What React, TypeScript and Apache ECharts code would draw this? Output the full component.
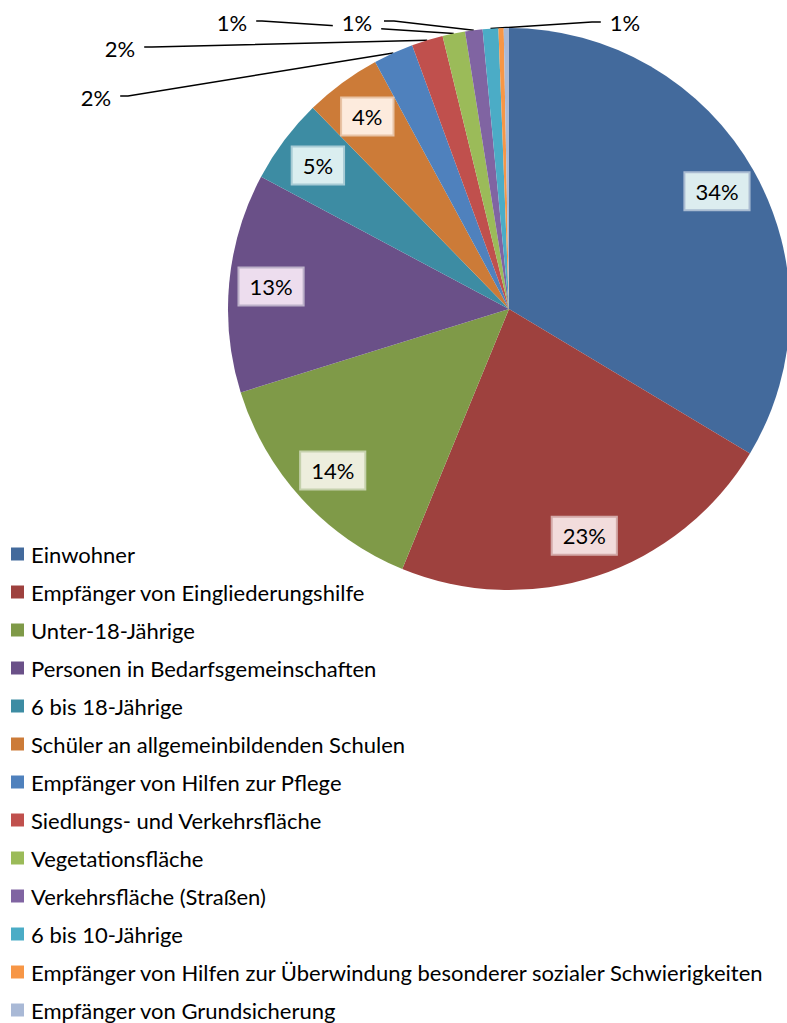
import React, { useEffect, useRef } from "react";
import * as echarts from "echarts";

const categories = [
  "Einwohner",
  "Empfänger von Eingliederungshilfe",
  "Unter-18-Jährige",
  "Personen in Bedarfsgemeinschaften",
  "6 bis 18-Jährige",
  "Schüler an allgemeinbildenden Schulen",
  "Empfänger von Hilfen zur Pflege",
  "Siedlungs- und Verkehrsfläche",
  "Vegetationsfläche",
  "Verkehrsfläche (Straßen)",
  "6 bis 10-Jährige",
  "Empfänger von Hilfen zur Überwindung besonderer sozialer Schwierigkeiten",
  "Empfänger von Grundsicherung",
];
const shares = [33.6, 22.6, 14.0, 12.6, 4.9, 4.4, 2.3, 1.8, 1.3, 1.0, 0.9, 0.3, 0.3];

const colors = [
  "#436A9C", "#9E413E", "#7F9A48", "#6A5088", "#3D8CA3", "#CC7B38",
  "#4F81BD", "#C0504D", "#9BBB59", "#8064A2", "#4BACC6", "#F79646", "#A9B9D6",
];
const insideFills = ["#DCEDEF", "#F2DCDC", "#EDEEDD", "#EDDDEE", "#DAEEF0", "#FDEBDD"];

// layout of the pie (px)
const CX = 509;
const CY = 309;
const R = 281;
const FONT = "Lato, 'Open Sans', sans-serif";

// outside label placement: label center, bend point, line end at the label
const outsideLabels: Record<number, { x: number; y: number; bx: number; by: number; ex: number; ey: number }> = {
  6: { x: 96, y: 97, bx: 128, by: 96, ex: 116, ey: 96 },
  7: { x: 120, y: 48, bx: 152, by: 47, ex: 142, ey: 47 },
  8: { x: 232, y: 22, bx: 262, by: 21, ex: 252, ey: 21 },
  9: { x: 357, y: 22, bx: 394, by: 21, ex: 384, ey: 21 },
  10: { x: 625, y: 22, bx: 592, by: 22, ex: 602, ey: 22 },
};

function edgePoint(i: number) {
  const total = shares.reduce((a, b) => a + b, 0);
  let before = 0;
  for (let k = 0; k < i; k++) before += shares[k];
  const mid = ((before + shares[i] / 2) / total) * Math.PI * 2;
  return [CX + R * Math.sin(mid), CY - R * Math.cos(mid)];
}

export default function App() {
  const ref = useRef<HTMLDivElement>(null);
  useEffect(() => {
    document.body.style.margin = "0";
    if (!ref.current) return;
    const chart = echarts.init(ref.current, undefined, { renderer: "svg" });
    const fmt = (p: any) => Math.round(p.percent) + "%";

    const mainData = categories.map((name, i) => {
      const outside = outsideLabels[i] !== undefined;
      return {
        name,
        value: shares[i],
        itemStyle: { color: colors[i] },
        label: outside
          ? {
              show: true,
              position: "outside",
              backgroundColor: "#ffffff",
              padding: [2, 9],
            }
          : { show: false },
        labelLine: { show: outside },
      };
    });

    const ringData = categories.map((name, i) => ({
      name,
      value: shares[i],
      label:
        i < 6
          ? {
              show: true,
              position: "inside",
              backgroundColor: insideFills[i],
              borderColor: "rgba(255,255,255,0.55)",
              borderWidth: 2,
              padding: [5, 10],
            }
          : { show: false },
    }));

    chart.setOption({
      animation: false,
      color: colors,
      legend: {
        orient: "vertical",
        left: 11,
        top: 543,
        bottom: 0,
        padding: 0,
        itemWidth: 13,
        itemHeight: 13,
        itemGap: 16,
        icon: "rect",
        selectedMode: false,
        data: categories,
        textStyle: {
          fontFamily: FONT,
          fontSize: 22,
          color: "#000",
          lineHeight: 20,
          padding: [0, 0, 0, 2],
        },
      },
      series: [
        {
          type: "pie",
          center: [CX, CY],
          radius: R,
          startAngle: 90,
          clockwise: true,
          avoidLabelOverlap: false,
          silent: true,
          itemStyle: { borderWidth: 0 },
          label: {
            formatter: fmt,
            fontFamily: FONT,
            fontSize: 22,
            color: "#000",
            lineHeight: 26,
          },
          labelLine: { lineStyle: { color: "#000", width: 1.5 } },
          labelLayout: (p: any) => {
            const o = outsideLabels[p.dataIndex];
            if (!o) return {};
            const e = edgePoint(p.dataIndex);
            return {
              x: o.x,
              y: o.y,
              align: "center",
              verticalAlign: "middle",
              labelLinePoints: [e, [o.bx, o.by], [o.ex, o.ey]],
            };
          },
          data: mainData,
        },
        {
          type: "pie",
          center: [CX, CY],
          radius: [191, R],
          startAngle: 90,
          clockwise: true,
          avoidLabelOverlap: false,
          silent: true,
          itemStyle: { color: "rgba(0,0,0,0)", borderWidth: 0 },
          label: {
            formatter: fmt,
            fontFamily: FONT,
            fontSize: 22,
            color: "#000",
            lineHeight: 26,
          },
          labelLine: { show: false },
          data: ringData,
        },
      ],
    });
    return () => chart.dispose();
  }, []);
  return <div ref={ref} style={{ width: 787, height: 1023 }} />;
}
